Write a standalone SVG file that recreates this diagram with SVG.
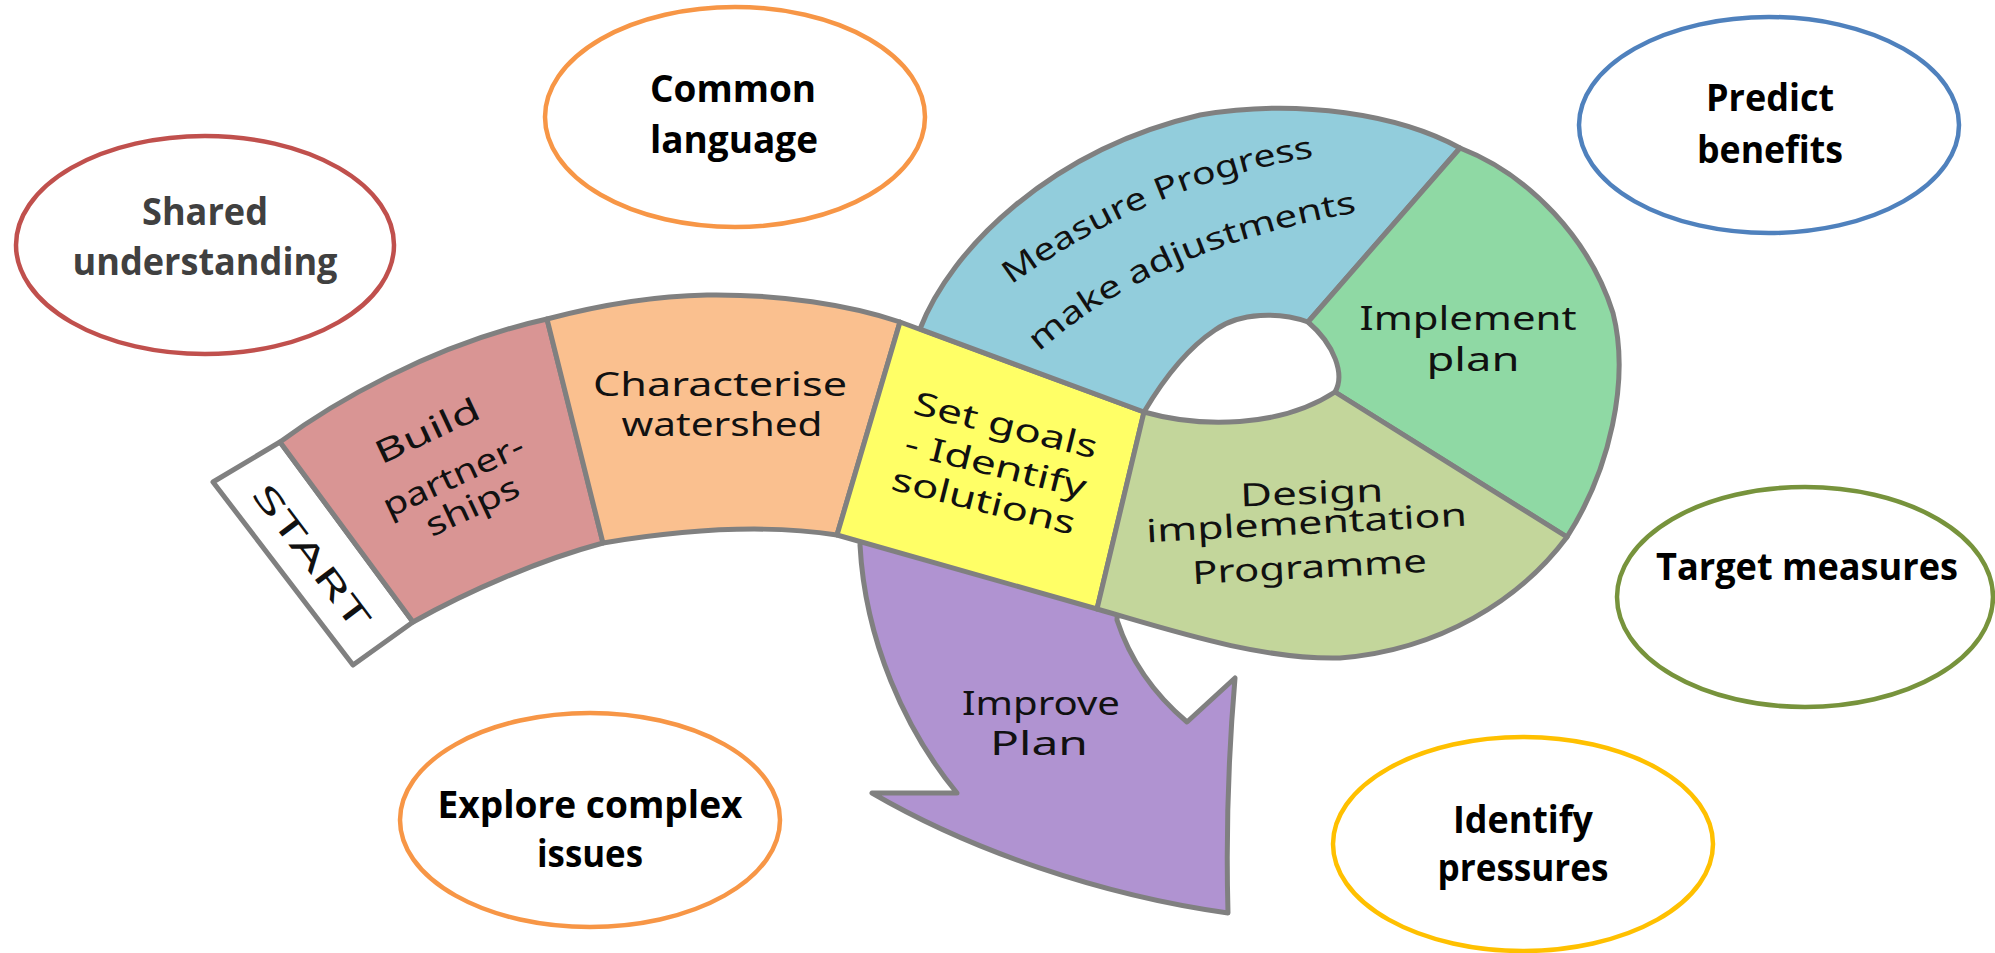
<svg xmlns="http://www.w3.org/2000/svg" width="1995" height="953" viewBox="0 0 1995 953">
<style>
.seg{stroke:#808080;stroke-width:5;stroke-linejoin:round}
.hand{font-family:"Noto Sans","DejaVu Sans",sans-serif;font-size:32px;fill:#111;text-anchor:middle}
.handp{font-family:"Noto Sans","DejaVu Sans",sans-serif;font-size:31px;fill:#111}
.bub{fill:#fff;stroke-width:4.5}
.bt{font-family:"Open Sans","Noto Sans",sans-serif;font-weight:700;font-size:37px;fill:#000;text-anchor:middle}
</style>
<defs>
<path id="arcMeasure" d="M1011,285 Q1153,182 1316,157"/>
<path id="arcMake" d="M1039,352 Q1154,248 1359,212"/>
</defs>
<rect width="1995" height="953" fill="#fff"/>

<g id="improve-plan">
<path class="seg" fill="#b093d1" d="M862,528 L1118,600 L1117,620 C1130,660 1155,695 1187,722 L1235,678 C1228,760 1226,840 1228,913 C1100,895 970,850 872,793 L957,793 C905,730 865,640 860,545 Z"/>
<text class="hand" x="1041" y="715" textLength="158" lengthAdjust="spacingAndGlyphs">Improve</text>
<text class="hand" x="1039" y="755" textLength="98" lengthAdjust="spacingAndGlyphs">Plan</text>
</g>

<g id="start">
<path class="seg" fill="#fff" d="M213,482 L280,442 L413,622 L353,665 Z"/>
<text class="hand" font-size="48" transform="translate(316,553) rotate(53)" y="17" textLength="172" lengthAdjust="spacingAndGlyphs">START</text>
</g>

<g id="build-partnerships">
<path class="seg" fill="#d99594" d="M280,442 C330,405 430,345 547,319 L603,543 C540,560 470,590 413,622 Z"/>
<text class="hand" transform="translate(432,441) rotate(-25)" textLength="112" lengthAdjust="spacingAndGlyphs">Build</text>
<text class="hand" transform="translate(458,486) rotate(-25)" textLength="152" lengthAdjust="spacingAndGlyphs">partner-</text>
<text class="hand" transform="translate(477,516) rotate(-25)" textLength="100" lengthAdjust="spacingAndGlyphs">ships</text>
</g>

<g id="characterise-watershed">
<path class="seg" fill="#fac08f" d="M547,319 C600,305 650,296 707,295 C780,294 850,305 900,322 L837,535 Q740,520 603,543 Z"/>
<text class="hand" font-size="30" x="720" y="396" textLength="254" lengthAdjust="spacingAndGlyphs">Characterise</text>
<text class="hand" font-size="30" x="722" y="436" textLength="201" lengthAdjust="spacingAndGlyphs">watershed</text>
</g>

<g id="set-goals">
<path class="seg" fill="#ffff66" d="M900,322 L1144,412 L1097,609 L837,535 Z"/>
<text class="hand" transform="translate(1003,436) rotate(14)" textLength="188" lengthAdjust="spacingAndGlyphs">Set goals</text>
<text class="hand" transform="translate(993,476) rotate(14)" textLength="186" lengthAdjust="spacingAndGlyphs">- Identify</text>
<text class="hand" transform="translate(981,512) rotate(14)" textLength="188" lengthAdjust="spacingAndGlyphs">solutions</text>
</g>

<g id="measure-progress">
<path class="seg" fill="#92cddc" d="M920,329 C950,250 1050,150 1200,115 C1300,98 1400,115 1460,148 L1308,322 C1280,312 1240,312 1215,330 C1185,350 1160,385 1144,412 Z"/>
<text class="handp"><textPath href="#arcMeasure" textLength="332" lengthAdjust="spacingAndGlyphs">Measure Progress</textPath></text>
<text class="handp"><textPath href="#arcMake" textLength="352" lengthAdjust="spacingAndGlyphs">make adjustments</textPath></text>
</g>

<g id="implement-plan">
<path class="seg" fill="#8fd9a4" d="M1460,148 C1530,175 1590,240 1613,313 C1630,380 1610,470 1567,537 L1335,392 C1345,375 1335,345 1308,322 Z"/>
<text class="hand" font-size="30" x="1468" y="330" textLength="217" lengthAdjust="spacingAndGlyphs">Implement</text>
<text class="hand" font-size="30" x="1473" y="371" textLength="93" lengthAdjust="spacingAndGlyphs">plan</text>
</g>

<g id="design-programme">
<path class="seg" fill="#c3d69b" d="M1144,412 C1200,428 1280,428 1335,392 L1567,537 C1520,600 1440,650 1340,658 C1260,660 1170,630 1097,609 Z"/>
<text class="hand" transform="translate(1312,504) rotate(-2)" textLength="143" lengthAdjust="spacingAndGlyphs">Design</text>
<text class="hand" transform="translate(1307,534) rotate(-3)" textLength="321" lengthAdjust="spacingAndGlyphs">implementation</text>
<text class="hand" transform="translate(1310,578) rotate(-3)" textLength="235" lengthAdjust="spacingAndGlyphs">Programme</text>
</g>

<g id="shared-understanding">
<ellipse class="bub" stroke="#c0504d" cx="205" cy="245" rx="189" ry="109"/>
<text class="bt" style="fill:#404040" x="205" y="225" textLength="126" lengthAdjust="spacingAndGlyphs">Shared</text>
<text class="bt" style="fill:#404040" x="205" y="275" textLength="265" lengthAdjust="spacingAndGlyphs">understanding</text>
</g>

<g id="common-language">
<ellipse class="bub" stroke="#f79646" cx="735" cy="117" rx="190" ry="110"/>
<text class="bt" x="733" y="102" textLength="166" lengthAdjust="spacingAndGlyphs">Common</text>
<text class="bt" x="734" y="153" textLength="168" lengthAdjust="spacingAndGlyphs">language</text>
</g>

<g id="predict-benefits">
<ellipse class="bub" stroke="#4f81bd" cx="1769" cy="125" rx="190" ry="108"/>
<text class="bt" x="1770" y="111" textLength="128" lengthAdjust="spacingAndGlyphs">Predict</text>
<text class="bt" x="1770" y="163" textLength="146" lengthAdjust="spacingAndGlyphs">benefits</text>
</g>

<g id="target-measures">
<ellipse class="bub" stroke="#77933c" cx="1805" cy="597" rx="188" ry="110"/>
<text class="bt" x="1807" y="580" textLength="302" lengthAdjust="spacingAndGlyphs">Target measures</text>
</g>

<g id="identify-pressures">
<ellipse class="bub" stroke="#ffc000" cx="1523" cy="844" rx="190" ry="107"/>
<text class="bt" x="1523" y="833" textLength="140" lengthAdjust="spacingAndGlyphs">Identify</text>
<text class="bt" x="1523" y="881" textLength="171" lengthAdjust="spacingAndGlyphs">pressures</text>
</g>

<g id="explore-complex-issues">
<ellipse class="bub" stroke="#f79646" cx="590" cy="820" rx="190" ry="107"/>
<text class="bt" x="590" y="818" textLength="305" lengthAdjust="spacingAndGlyphs">Explore complex</text>
<text class="bt" x="590" y="867" textLength="106" lengthAdjust="spacingAndGlyphs">issues</text>
</g>

<g id="connectors"></g>
</svg>
